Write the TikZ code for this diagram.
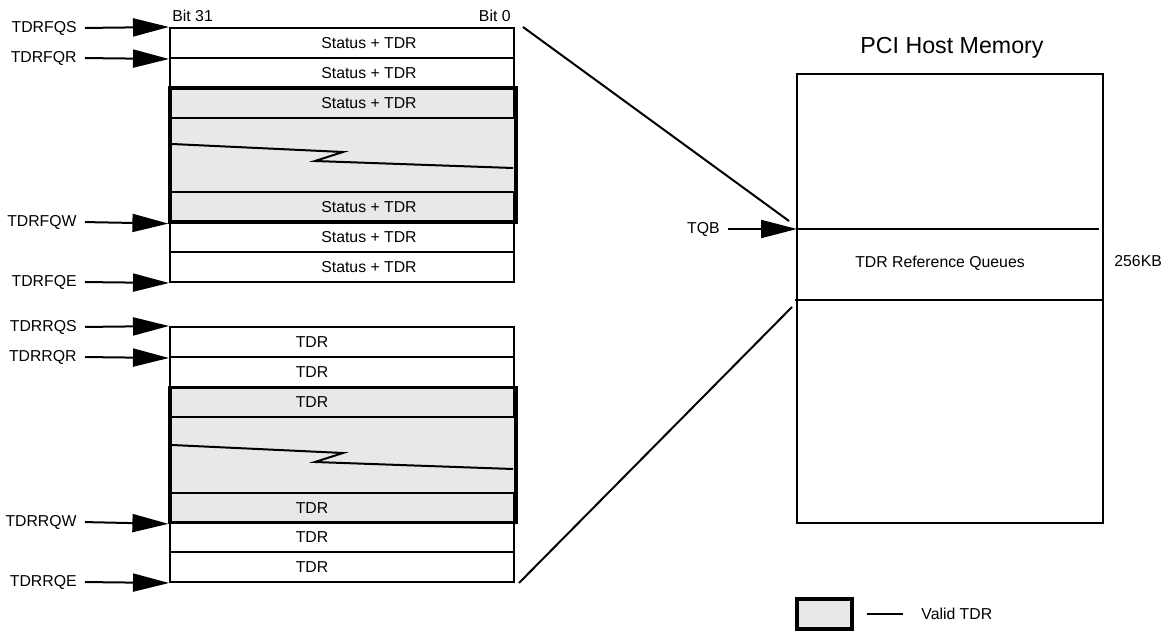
\documentclass[tikz,border=0pt]{standalone}
\usepackage{fontspec}
\setmainfont{Liberation Sans}
\usepackage{tikz}
\usetikzlibrary{arrows.meta,calc}
\definecolor{validgrey}{RGB}{232,232,232}

\begin{document}
\begin{tikzpicture}[
    x=0.5pt, y=-0.5pt,
    font=\fontsize{7.9}{9.5}\selectfont,
    slot/.style   ={draw, line width=1pt, minimum width=172pt, minimum height=15pt, inner sep=0pt},
    valid/.style  ={draw, line width=1.6pt, fill=validgrey, minimum width=173pt, inner sep=0pt},
    ptr/.style    ={-{Triangle[length=18pt, width=9pt]}, line width=1pt, shorten <=2pt},
    reg/.style    ={anchor=east, inner sep=2pt},
    brk/.style    ={line width=1pt, line join=miter},
    link/.style   ={line width=1pt},
  ]
  \useasboundingbox (0,0) rectangle (1169,631);
  \node[valid, minimum height=67pt] (fqv) at (343,155) {};
  \node[slot] (fq1) at (342,43)  {\hspace*{27pt}Status + TDR};
  \node[slot] (fq2) at (342,73)  {\hspace*{27pt}Status + TDR};
  \node[slot] (fq3) at (342,103) {\hspace*{27pt}Status + TDR};
  \node[slot] (fq4) at (342,207) {\hspace*{27pt}Status + TDR};
  \node[slot] (fq5) at (342,237) {\hspace*{27pt}Status + TDR};
  \node[slot] (fq6) at (342,267) {\hspace*{27pt}Status + TDR};
  \draw[brk] (172,144) -- (343,152) -- (315,161) -- (513,168);
  \node[anchor=base west, inner sep=0pt] (b31) at ([xshift=1.5pt, yshift=2.5pt]fq1.north west) {Bit 31};
  \node[anchor=base east, inner sep=0pt] (b0)  at ([xshift=-2pt, yshift=2.5pt]fq1.north east) {Bit 0};
  \node[reg] (fqs) at (81,28)  {TDRFQS};
  \node[reg] (fqr) at (81,58)  {TDRFQR};
  \node[reg] (fqw) at (81,222) {TDRFQW};
  \node[reg] (fqe) at (81,282) {TDRFQE};
  \draw[ptr] (fqs.east) -- (fq1.north west);
  \draw[ptr] (fqr.east) -- (fq1.south west);
  \draw[ptr] (fqw.east) -- (fqv.south west);
  \draw[ptr] (fqe.east) -- (fq6.south west);
  \node[valid, minimum height=67.25pt] (rqv) at (343,455) {};
  \node[slot] (rq1) at (342,342) {TDR\hspace*{30pt}};
  \node[slot] (rq2) at (342,372) {TDR\hspace*{30pt}};
  \node[slot] (rq3) at (342,402) {TDR\hspace*{30pt}};
  \node[slot] (rq4) at (342,508) {TDR\hspace*{30pt}};
  \node[slot] (rq5) at (342,537) {TDR\hspace*{30pt}};
  \node[slot] (rq6) at (342,567) {TDR\hspace*{30pt}};
  \draw[brk] (172,445) -- (343,453) -- (315,462) -- (513,469);
  \node[reg] (rqs) at (81,327) {TDRRQS};
  \node[reg] (rqr) at (81,357) {TDRRQR};
  \node[reg] (rqw) at (81,522) {TDRRQW};
  \node[reg] (rqe) at (81,582) {TDRRQE};
  \draw[ptr] (rqs.east) -- (rq1.north west);
  \draw[ptr] (rqr.east) -- (rq1.south west);
  \draw[ptr] (rqw.east) -- (rqv.south west);
  \draw[ptr] (rqe.east) -- (rq6.south west);
  \node[font=\fontsize{11.6}{14}\selectfont] (title) at (952,48) {PCI Host Memory};
  \node[draw, line width=1pt, minimum width=153pt, minimum height=224.5pt, inner sep=0pt] (mem) at (950,298.5) {};
  \coordinate (tqbpt)  at (797,229);
  \coordinate (refend) at (797,300);
  \draw[link] (tqbpt) -- ([xshift=-2.5pt]tqbpt -| mem.east);
  \draw[link] ([xshift=-1pt]refend) -- (refend -| mem.east);
  \node (refq) at (940,263) {TDR Reference Queues};
  \node[anchor=west, inner sep=0pt] (size) at (1114,261) {256KB};
  \node[reg] (tqb) at (724,229) {TQB};
  \draw[ptr] (tqb.east) -- (tqbpt);
  \draw[link] ([xshift=4pt]fq1.north east) -- ([xshift=-4pt, yshift=4pt]tqbpt);
  \draw[link] ([xshift=2pt]rq6.south east) -- ([xshift=-2.5pt, yshift=-3.5pt]refend);
  \node[valid, minimum width=27.5pt, minimum height=15pt] (key) at (824.5,614) {};
  \node[anchor=west, inner sep=0pt] (keytxt) at (921,614) {Valid TDR};
  \draw[link] ([xshift=6.5pt]key.east) -- ([xshift=-9pt]keytxt.west);
\end{tikzpicture}
\end{document}
